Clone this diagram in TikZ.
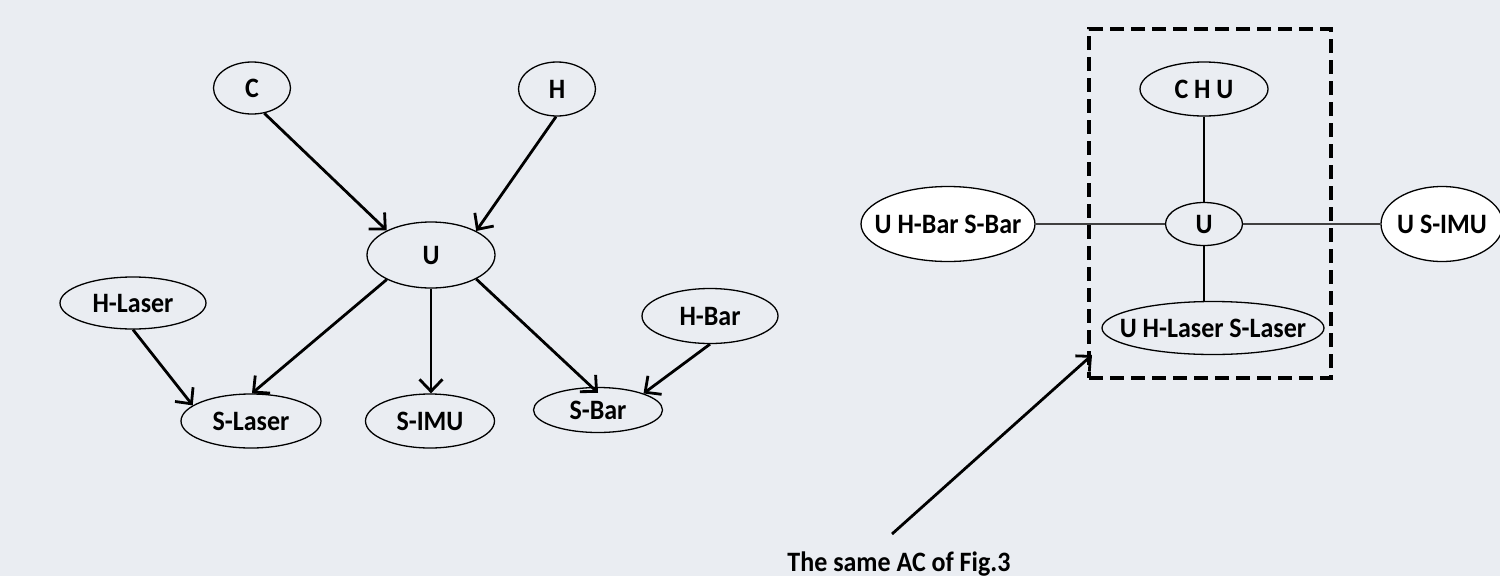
\documentclass[tikz,border=0pt]{standalone}
\usepackage{fontspec}
\usepackage{graphicx}
\setmainfont{Carlito}
\usetikzlibrary{shapes.geometric,arrows.meta}
\definecolor{bgc}{RGB}{234,237,242}
% taller, zero-width label, so the ellipse keeps its given size
\newcommand{\tx}[1]{\makebox[0pt]{\scalebox{1}[1.08]{#1}}}
\begin{document}
\begin{tikzpicture}[x=1pt,y=-1pt,
  every node/.style={font=\fontsize{26}{30}\selectfont\bfseries},
  ell/.style={ellipse, draw, line width=1.3pt, inner sep=0pt},
  arr/.style={line width=2.8pt, -{Straight Barb[length=12pt,width=23pt]}},
  vline/.style={line width=2pt},
  hline/.style={line width=1.3pt, black!75},
  dashbox/.style={draw, line width=3.5pt, dash pattern=on 14pt off 7pt, inner sep=0pt}
]
\fill[bgc] (0,0) rectangle (1500,576);
\useasboundingbox (0,0) rectangle (1500,576);

% ---- directed graph ----
\node[ell, minimum width=77, minimum height=52] (C) at (252,88) {\tx{C}};
\node[ell, minimum width=77, minimum height=54] (H) at (557,89) {\tx{H}};
\node[ell, minimum width=128, minimum height=66] (U) at (431,255) {\tx{U}};
\node[ell, minimum width=146, minimum height=52] (HL) at (133,303) {\tx{H-Laser}};
\node[ell, minimum width=140, minimum height=54] (SL) at (251,421) {\tx{S-Laser}};
\node[ell, minimum width=129, minimum height=54] (SI) at (430,421) {\tx{S-IMU}};
\node[ell, minimum width=136, minimum height=55] (HB) at (710,316) {\tx{H-Bar}};
\node[ell, minimum width=129, minimum height=45] (SB) at (598,410) {\tx{S-Bar}};

\draw[arr] (C.-64) -- (U.151);
\draw[arr] (H.-92) -- (U.28);
\draw[arr] (U.-151) -- (SL.88);
\draw[arr] (U.south) -- (U.south |- SI.north);
\draw[arr] (U.-28) -- ([yshift=-6pt]SB.north);
\draw[arr] (HL.south) -- (SL.165);
\draw[arr] (HB.south) -- (SB.20);

% ---- undirected graph with its dashed group ----
\node[dashbox, minimum width=242, minimum height=349] (box) at (1210,203.5) {};
\node[ell, minimum width=128, minimum height=54] (CHU) at (1204,89) {\tx{C H U}};
\node[ell, minimum width=77, minimum height=43] (U2) at (1204,224) {\tx{U}};
\node[ell, fill=white, minimum width=174, minimum height=75] (UHB) at (948,224) {\tx{U H-Bar S-Bar}};
\node[ell, minimum width=222, minimum height=53] (UHL) at (1213,328) {\tx{U H-Laser S-Laser}};
\node[ell, fill=white, minimum width=122, minimum height=75] (USI) at (1442,224) {\tx{U S-IMU}};

\draw[vline] (CHU) -- (U2);
\draw[vline] (U2) -- (UHL.north -| U2);
\draw[hline] (UHB) -- (U2);
\draw[hline] (U2) -- (USI);

% ---- caption pointing at the group ----
\node[anchor=base, font=\fontsize{26}{30}\selectfont\bfseries] (cap) at (899,571) {\scalebox{1}[1.08]{The same AC of Fig.3}};
\coordinate (tail) at (892,534);
\coordinate (aim) at (1092,355);
\draw[arr, -{Straight Barb[length=11pt,width=21pt]}] (tail) -- (aim);
\end{tikzpicture}
\end{document}
